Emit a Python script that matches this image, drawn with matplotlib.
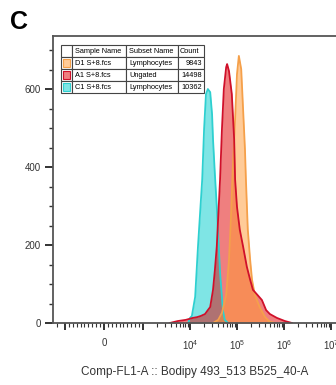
import numpy as np
import matplotlib
matplotlib.use("Agg")
import matplotlib.pyplot as plt
from matplotlib.patches import Rectangle
from matplotlib.ticker import MultipleLocator

plt.rcParams['font.family'] = ['Liberation Sans', 'DejaVu Sans']
plt.rcParams['mathtext.fontset'] = 'custom'
plt.rcParams['mathtext.rm'] = 'Liberation Sans'
plt.rcParams['mathtext.it'] = 'Liberation Sans:italic'

c1_log = [3.96, 4.00, 4.04, 4.11, 4.17, 4.26, 4.30, 4.34, 4.38, 4.43, 4.47, 4.49, 4.53, 4.57, 4.64, 4.70, 4.74, 4.81]
c1_count = [0, 13, 18, 67, 196, 368, 497, 587, 600, 592, 535, 471, 381, 299, 129, 33, 8, 0]

a1_log = [3.57, 3.74, 3.91, 4.06, 4.15, 4.23, 4.32, 4.38, 4.43, 4.49, 4.53, 4.57, 4.64, 4.68, 4.72, 4.77, 4.79,
          4.83, 4.89, 4.94, 4.96, 5.00, 5.06, 5.13, 5.21, 5.28, 5.34, 5.45, 5.53, 5.62, 5.70, 5.85, 6.02, 6.17]
a1_count = [0, 5, 8, 13, 15, 18, 23, 33, 41, 85, 136, 196, 368, 497, 600, 656, 664,
            646, 587, 471, 368, 298, 239, 196, 144, 111, 85, 70, 59, 33, 23, 13, 5, 0]

d1_log = [4.49, 4.60, 4.68, 4.77, 4.83, 4.87, 4.91, 4.96, 5.00, 5.04, 5.09, 5.13, 5.17, 5.19, 5.23, 5.28,
          5.32, 5.38, 5.49, 5.60, 5.70, 5.81]
d1_count = [0, 8, 26, 72, 162, 265, 394, 523, 638, 685, 651, 548, 445, 368, 240, 162,
            111, 72, 39, 15, 3, 0]

# legend table
sample_names = ["D1 S+8.fcs", "A1 S+8.fcs", "C1 S+8.fcs"]
subset_names = ["Lymphocytes", "Ungated", "Lymphocytes"]
counts = ["9843", "14498", "10362"]
base_colors = ["#ff9933", "#e00000", "#00cccc"]
line_colors = ["#f5a04a", "#d0102a", "#2ed0d0"]

fig = plt.figure(figsize=(3.36, 3.85), dpi=100)
ax = fig.add_axes([53 / 336, 62 / 385, 283 / 336, 287 / 385])

# histograms: cyan first, then red, then orange on top
series = [(c1_log, c1_count, 2), (a1_log, a1_count, 1), (d1_log, d1_count, 0)]
for lg, cnt, i in series:
    x = 10 ** np.array(lg)
    ax.fill_between(x, cnt, 0, color=base_colors[i], alpha=0.5, lw=0)
for lg, cnt, i in [(c1_log, c1_count, 2), (d1_log, d1_count, 0), (a1_log, a1_count, 1)]:
    x = 10 ** np.array(lg)
    ax.plot(x, cnt, color=line_colors[i], lw=1.3)

# biexponential-like axis
ax.set_xscale('symlog', linthresh=1000, linscale=0.747)
ax.set_xlim(-1800, 1.28e7)
ax.set_ylim(0, 736)

ax.set_xticks([-1000, 0, 1000, 1e4, 1e5, 1e6, 1e7],
              ['', '0', '', r'$10^{4}$', r'$10^{5}$', r'$10^{6}$', r'$10^{7}$'])
minor = [-100 * k for k in range(1, 10)] + [100 * k for k in range(1, 10)] + [-1500]
for e in range(3, 7):
    minor += [j * 10 ** e for j in range(2, 10)]
ax.set_xticks(minor, minor=True)
ax.set_yticks([0, 200, 400, 600])
ax.yaxis.set_minor_locator(MultipleLocator(50))

ax.tick_params(axis='both', which='major', colors='#333333', labelsize=7)
ax.tick_params(axis='y', which='major', length=6, width=1.4, pad=3)
ax.tick_params(axis='y', which='minor', length=3, width=1, color='#333333')
ax.tick_params(axis='x', which='major', length=5, width=1.4, pad=6)
ax.tick_params(axis='x', which='minor', length=3, width=0.8, color='#333333')

for s in ['left', 'bottom', 'top']:
    ax.spines[s].set_color('#555555')
    ax.spines[s].set_linewidth(1.3)
ax.spines['right'].set_visible(False)

ax.set_xlabel('Comp-FL1-A :: Bodipy 493_513 B525_40-A', fontsize=8.5, color='#333333', labelpad=10)

# legend table
cell_text = [["", "Sample Name", "Subset Name", "Count"]]
for s, sub, c in zip(sample_names, subset_names, counts):
    cell_text.append(["", s, sub, c])
tx0, ty0, tw, th = 0.028, 0.801, 0.505, 0.167
tbl = ax.table(cellText=cell_text, colWidths=[0.077, 0.378, 0.364, 0.182],
               bbox=[tx0, ty0, tw, th], cellLoc='left')
tbl.auto_set_font_size(False)
tbl.set_fontsize(5.3)
for (r, c), cell in tbl.get_celld().items():
    cell.set_edgecolor('#444444')
    cell.set_linewidth(0.8)
    cell.PAD = 0.06
    if c == 3 and r > 0:
        cell.set_text_props(ha='right')
rh = th / 4
sw_w = 0.077 * tw
for i in range(3):
    yc = ty0 + th - rh * (i + 1.5)
    ax.add_patch(Rectangle((tx0 + sw_w * 0.22, yc - rh * 0.32), sw_w * 0.56, rh * 0.64,
                           transform=ax.transAxes, facecolor=base_colors[i], alpha=0.5,
                           edgecolor='none', zorder=10))
    ax.add_patch(Rectangle((tx0 + sw_w * 0.22, yc - rh * 0.32), sw_w * 0.56, rh * 0.64,
                           transform=ax.transAxes, facecolor='none',
                           edgecolor=line_colors[i], lw=0.8, zorder=11))

fig.text(0.03, 0.975, 'C', fontsize=18, fontweight='bold', va='top', ha='left')

fig.savefig('out.png', dpi=100)
